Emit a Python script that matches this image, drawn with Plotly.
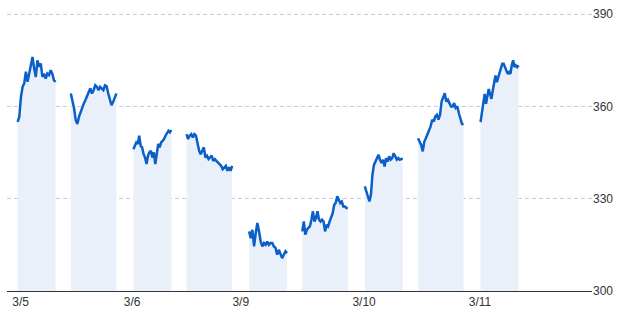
import numpy as np
import plotly.graph_objects as go

# ---- data ----
day_labels = ["3/5", "3/6", "3/9", "3/10", "3/11"]

d0_am = [355.0, 356.6, 363.1, 366.4, 367.5, 371.3, 368.0, 370.7, 372.9, 376.1, 372.3, 369.6,
         375.0, 372.9, 374.0, 369.6, 370.7, 369.1, 370.7, 370.2, 371.8, 370.7, 368.5, 368.0]
d0_pm = [364.2, 362.0, 359.4, 355.6, 354.3, 356.6, 358.3, 359.4, 361.0, 362.1, 363.7, 364.7,
         365.9, 364.2, 365.3, 366.9, 366.4, 365.3, 366.4, 365.9, 365.3, 366.9, 366.6, 364.2,
         362.6, 360.4, 361.5, 362.6, 364.2]
d1_am = [346.1, 347.2, 348.3, 347.8, 350.5, 347.2, 346.7, 344.5, 343.4, 341.3, 344.0, 345.1,
         345.6, 343.4, 345.1, 341.3, 344.0, 347.8, 346.7, 348.3, 348.8, 349.4, 350.5, 351.2,
         352.1, 351.6, 352.3]
d1_pm = [351.0, 349.4, 350.5, 351.0, 349.9, 351.0, 350.5, 348.3, 345.6, 344.5, 345.6, 346.7,
         343.4, 344.0, 342.9, 343.4, 344.0, 342.3, 342.9, 342.3, 341.8, 341.3, 340.7, 339.6,
         340.2, 340.7, 339.1, 340.2, 339.1, 340.7]
d2_am = [319.4, 317.2, 319.9, 314.5, 318.8, 322.1, 319.4, 316.1, 314.5, 315.6, 315.0, 316.1,
         315.0, 315.6, 315.6, 314.5, 314.0, 311.8, 313.4, 312.3, 310.7, 311.8, 312.9, 312.3]
d2_pm = [319.4, 322.6, 318.3, 319.9, 320.5, 321.0, 323.2, 325.9, 322.6, 323.7, 325.9, 323.2,
         322.6, 323.2, 322.6, 319.4, 321.5, 321.0, 322.6, 323.7, 325.3, 328.0, 328.6, 330.8,
         329.7, 328.6, 329.1, 327.5, 327.5, 327.0, 327.0]
d3_am = [334.0, 332.4, 330.8, 329.1, 331.3, 337.8, 341.0, 342.1, 343.2, 344.3, 342.7, 341.6,
         342.7, 340.5, 343.2, 342.1, 343.8, 342.7, 343.2, 344.8, 343.8, 342.7, 343.2, 342.7,
         342.9, 343.0]
d3_pm = [349.7, 348.6, 347.5, 345.4, 348.6, 349.7, 350.8, 351.9, 353.5, 355.7, 355.1, 356.8,
         357.3, 355.7, 357.3, 361.6, 363.3, 364.3, 361.6, 362.2, 361.1, 360.0, 360.0, 361.1,
         359.5, 360.0, 357.8, 355.7, 354.3, 354.3]
d4_am = [354.9, 357.6, 361.4, 364.1, 360.9, 363.0, 365.7, 364.1, 362.5, 365.2, 367.4, 370.1,
         367.9, 369.5, 371.2, 372.2, 373.9, 373.9, 372.8, 371.2, 370.6, 371.2, 370.6, 373.4,
         375.0, 372.8, 373.4, 372.8, 373.4]

sessions = [(0, "am", d0_am), (0, "pm", d0_pm), (1, "am", d1_am), (1, "pm", d1_pm),
            (2, "am", d2_am), (2, "pm", d2_pm), (3, "am", d3_am), (3, "pm", d3_pm),
            (4, "am", d4_am)]

y_ticks = [300, 330, 360, 390]

# session timing in minutes from 9:00 (compressed axis; each trading day occupies DAY minutes)
DAY = 457
SESSION_MIN = {"am": (0, 150), "pm": (210, 390)}
tick_shift_min = [12, -5, -33, -3, -2]

LINE = "#0a5fc8"
FILL = "#e9f0fa"

fig = go.Figure()
for d, s, vals in sessions:
    a, b = SESSION_MIN[s]
    x = np.linspace(d * DAY + a, d * DAY + b, len(vals))
    fig.add_trace(go.Scatter(
        x=x, y=vals, mode="lines",
        line=dict(color=LINE, width=2.5),
        fill="tozeroy", fillcolor=FILL,
        hoverinfo="skip", showlegend=False,
    ))

tick_vals = [i * DAY + tick_shift_min[i] for i in range(len(day_labels))]

fig.update_layout(
    width=632, height=321,
    margin=dict(l=7, r=40, t=13, b=30),
    paper_bgcolor="white", plot_bgcolor="white",
    font=dict(family="Liberation Sans, Arial, sans-serif", size=12, color="#333333"),
    xaxis=dict(
        range=[-42, 2268], showgrid=False, zeroline=False,
        showline=True, linecolor="#333333", linewidth=1,
        tickmode="array", tickvals=tick_vals, ticktext=day_labels,
        ticks="", tickfont=dict(size=12, color="#333333"),
    ),
    yaxis=dict(
        range=[300, 390.4], side="right",
        tickmode="array", tickvals=y_ticks, ticktext=[str(v) for v in y_ticks],
        showgrid=True, gridcolor="#cccccc", gridwidth=1, griddash="4px,3px",
        zeroline=False, showline=False, ticks="",
        tickfont=dict(size=12, color="#333333"),
    ),
)

fig.write_html("out.html")
